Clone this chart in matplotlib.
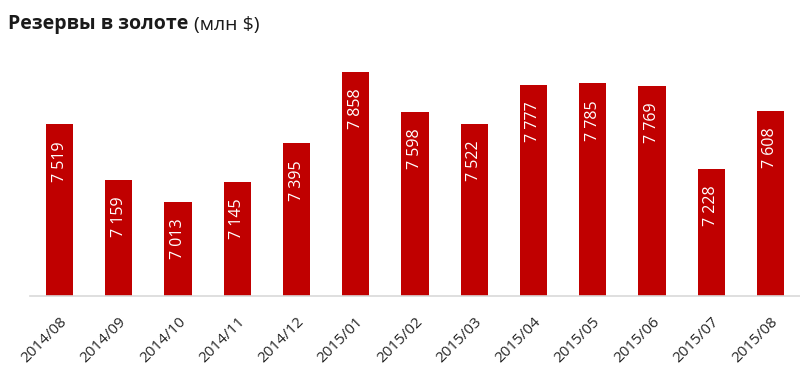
import matplotlib.pyplot as plt
import numpy as np

months = ["2014/08", "2014/09", "2014/10", "2014/11", "2014/12", "2015/01", "2015/02",
          "2015/03", "2015/04", "2015/05", "2015/06", "2015/07", "2015/08"]
reserves = [7519, 7159, 7013, 7145, 7395, 7858, 7598, 7522, 7777, 7785, 7769, 7228, 7608]

plt.rcParams['font.family'] = ['Open Sans', 'DejaVu Sans']

fig = plt.figure(figsize=(8, 3.87), dpi=100)
ax = fig.add_axes([0.0375, 0.235, 0.9625, 0.615])

x = np.arange(len(months))
ax.bar(x, reserves, width=0.46, color='#C00000', zorder=2)

for xi, v in zip(x, reserves):
    label = f"{v:,}".replace(",", " ")
    ax.annotate(label, (xi, v), xytext=(0, -12), textcoords='offset points',
                rotation=90, ha='center', va='top', color='white', fontsize=11.5)

ax.set_xlim(-0.5, len(months) - 0.5)
ax.set_ylim(6400, 7950)
ax.set_yticks([])
ax.set_xticks(x)
ax.set_xticklabels(months, rotation=45, ha='right', rotation_mode='anchor',
                   fontsize=11, color='#262626')
ax.tick_params(axis='x', length=0, pad=13)
for s in ['top', 'right', 'left']:
    ax.spines[s].set_visible(False)
ax.spines['bottom'].set_color('#D9D9D9')
ax.spines['bottom'].set_linewidth(1.2)

t = fig.text(0.01, 0.925, "Резервы в золоте", fontsize=14, fontweight='bold', color='#1a1a1a')
ax.annotate("(млн $)", xy=(1, 0), xycoords=t, xytext=(4, 0), textcoords='offset points',
            va='bottom', fontsize=14, color='#1a1a1a')

fig.savefig("out.png", dpi=100)
